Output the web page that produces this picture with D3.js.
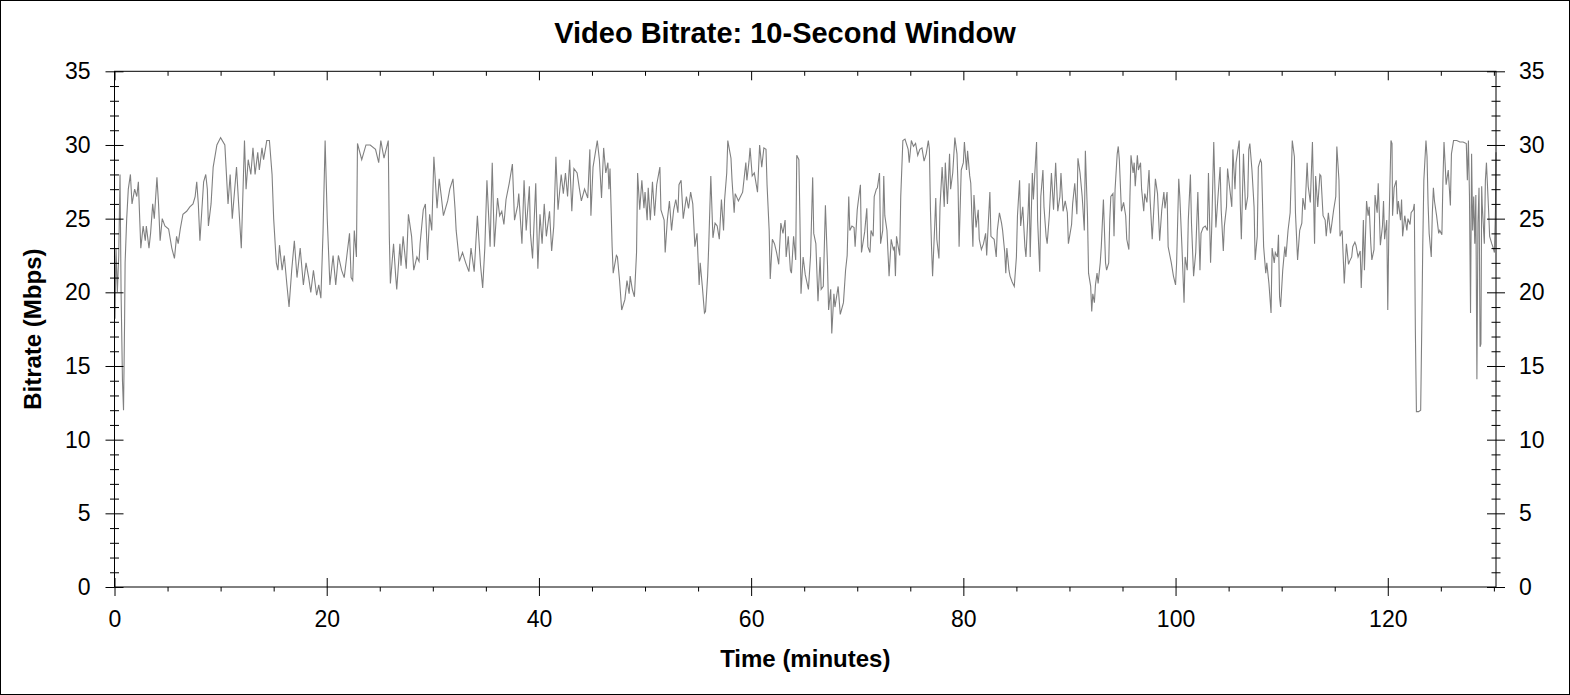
<!DOCTYPE html>
<html>
<head>
<meta charset="utf-8">
<script src="https://cdn.jsdelivr.net/npm/d3@7"></script>
<style>
  body { margin: 0; background: #fff; }
  text { font-family: "Liberation Sans", Arial, sans-serif; fill: #000; }
</style>
</head>
<body>
<div id="chart"></div>
<script>
// [minute, Mbps]
var seg1 = [[0.0,22.5],[0.05,18.2],[0.14,23.0],[0.27,20.0],[0.4,22.5],[0.52,28.0],[0.62,20.0],[0.75,14.0],[0.85,12.0],[0.95,18.0],[1.0,22.0],[1.15,25.0],[1.3,27.0],[1.5,28.0],[1.65,26.0],[1.9,27.0],[2.1,26.5],[2.25,27.5],[2.35,25.5],[2.48,23.0],[2.7,24.5],[2.9,23.5],[3.0,24.5],[3.25,23.0],[3.4,24.0],[3.6,26.0],[3.75,25.0],[4.0,27.8],[4.15,26.0],[4.3,23.5],[4.5,25.0],[4.75,24.5],[5.1,24.3],[5.4,23.0],[5.65,22.3],[5.85,23.8],[6.0,23.3],[6.2,24.3],[6.45,25.3],[6.8,25.5],[7.1,25.8],[7.4,26.0],[7.6,26.5],[7.75,27.5],[7.9,26.0],[8.05,23.5],[8.4,27.5],[8.6,28.0],[8.75,27.0],[8.85,24.5],[9.1,26.0],[9.3,28.5],[9.65,30.0],[10.0,30.5],[10.4,30.0],[10.7,26.0],[10.9,28.0],[11.1,25.0],[11.5,28.5],[11.7,26.0],[11.95,23.0],[12.25,30.3],[12.4,27.0],[12.6,29.0],[12.85,28.0],[13.05,29.8],[13.25,28.0],[13.5,29.5],[13.65,28.3],[13.9,29.8],[14.05,29.0],[14.35,30.3],[14.6,30.3],[14.85,28.0],[15.0,25.0],[15.25,22.0],[15.4,21.5],[15.55,23.2],[15.8,21.5],[16.0,22.5],[16.25,20.5],[16.45,19.0],[16.7,21.5],[16.95,23.5],[17.2,21.0],[17.5,23.0],[17.8,20.5],[18.05,22.0],[18.3,21.0],[18.5,20.0],[18.75,21.5],[19.05,19.8],[19.25,20.5],[19.45,19.6],[19.65,24.0],[19.85,30.3],[20.05,25.0],[20.3,20.5],[20.6,22.5],[20.85,20.5],[21.1,22.5],[21.4,21.5],[21.65,21.0],[21.9,22.5],[22.15,24.0],[22.3,21.0],[22.45,20.8]];

var seg2 = [[22.6,24.2],[22.8,22.4],[22.9,30.1],[23.3,29.0],[23.7,30.0],[24.1,30.0],[24.6,29.7],[24.9,28.8],[25.1,30.3],[25.4,29.1],[25.8,30.3],[25.9,23.8],[26.0,20.6],[26.3,23.3],[26.5,21.1],[26.6,20.2],[26.9,23.3],[27.0,21.8],[27.2,23.8],[27.5,21.6],[27.7,25.3],[28.0,23.8],[28.2,21.5],[28.5,22.4],[28.7,22.1],[28.8,23.3],[29.1,25.6],[29.3,26.0],[29.5,22.2],[29.7,25.3],[29.9,24.2],[30.1,29.2],[30.4,25.7],[30.6,27.7],[30.8,26.5],[31.0,25.2],[31.4,26.2],[31.6,27.0],[31.9,27.7],[32.1,25.6],[32.2,24.2],[32.5,22.1],[32.8,22.7],[33.1,22.0],[33.4,21.4],[33.6,23.0],[33.9,21.4],[34.2,25.2],[34.5,21.8],[34.7,20.3],[34.9,23.0],[35.1,27.6],[35.4,23.1],[35.6,28.8],[35.8,23.1],[36.1,26.4],[36.3,25.2],[36.5,25.5],[36.7,24.6],[36.9,26.3],[37.2,27.4],[37.5,28.7],[37.7,24.9],[38.0,25.9],[38.1,26.7],[38.4,23.3],[38.6,27.6],[38.8,24.2],[39.1,27.2],[39.2,24.0],[39.4,22.3],[39.7,27.4],[39.9,21.6],[40.1,25.3],[40.3,23.3],[40.5,26.0],[40.7,23.8],[41.0,25.5],[41.2,22.8],[41.4,24.5],[41.6,29.2],[41.8,25.6],[42.1,28.0],[42.3,26.7],[42.5,28.1],[42.7,26.5],[42.9,29.0],[43.1,25.5],[43.3,28.4],[43.6,28.1],[43.8,27.1],[44.0,26.2],[44.3,27.0],[44.6,26.4],[44.8,29.7],[44.9,25.2],[45.1,28.5],[45.5,30.3],[45.7,29.0]];

var seg3 = [[45.9,26.4],[46.1,29.8],[46.3,28.1],[46.5,28.8],[46.6,27.0],[46.7,28.4],[46.9,23.1],[47.0,21.3],[47.3,22.5],[47.4,22.4],[47.6,20.8],[47.8,18.8],[48.1,19.5],[48.3,20.8],[48.5,19.9],[48.6,21.1],[48.8,20.2],[49.0,19.7],[49.2,22.7],[49.3,28.1],[49.5,25.6],[49.7,27.6],[49.9,25.7],[50.0,26.8],[50.2,24.9],[50.3,27.1],[50.5,24.9],[50.7,27.5],[50.9,25.2],[51.1,27.3],[51.4,28.5],[51.5,25.6],[51.8,24.9],[51.9,22.7],[52.1,24.9],[52.3,26.2],[52.5,24.2],[52.7,25.6],[52.9,26.3],[53.1,25.4],[53.2,27.3],[53.4,27.6],[53.6,25.0],[53.9,26.5],[54.1,25.7],[54.3,26.8],[54.5,26.0],[54.7,23.1],[54.9,24.0],[55.1,20.5],[55.2,22.0],[55.4,20.4],[55.6,18.6],[55.7,18.7],[55.9,21.1],[56.0,23.1],[56.2,27.9],[56.4,23.7],[56.6,24.7],[56.8,24.5],[57.0,23.6],[57.2,26.3],[57.4,24.2],[57.5,26.3],[57.7,28.1],[57.8,30.3],[58.1,29.1],[58.2,27.6],[58.4,25.4],[58.5,26.7],[58.8,26.2],[59.0,26.5],[59.2,26.8],[59.5,28.8],[59.6,27.6],[59.8,28.9],[59.9,29.8],[60.1,27.9],[60.3,28.1],[60.6,26.8],[60.8,30.0],[61.0,28.5],[61.2,29.8],[61.4,29.7],[61.5,27.3],[61.7,24.2],[61.8,20.9],[62.0,23.6],[62.2,23.3],[62.4,22.7],[62.6,21.9],[62.8,24.7],[63.0,24.0],[63.2,24.9],[63.3,22.4],[63.5,23.8],[63.7,21.5],[63.8,21.3],[64.0,23.8],[64.2,22.2],[64.3,29.3],[64.5,29.0],[64.6,24.9],[64.7,19.9],[64.9,22.4],[65.1,21.2],[65.4,20.2],[65.6,22.5],[65.8,27.8],[65.9,24.0],[66.1,23.3],[66.3,19.4],[66.5,22.4],[66.6,20.2],[66.8,20.4],[67.0,25.9],[67.2,21.8],[67.3,18.8],[67.5,20.2],[67.6,17.2],[67.8,19.9],[67.9,19.0],[68.2,20.4],[68.4,18.5],[68.7,19.3],[68.9,21.5],[69.05,22.5]];

var seg4 = [[69.2,26.5],[69.3,24.2],[69.5,24.5],[69.7,24.4],[69.8,23.1],[70.0,25.6],[70.1,26.2],[70.3,27.3],[70.4,22.7],[70.7,24.1],[70.9,25.7],[71.0,23.1],[71.2,22.7],[71.3,24.2],[71.5,23.8],[71.6,26.5],[71.8,27.0],[71.9,27.1],[72.1,28.1],[72.2,23.3],[72.4,24.2],[72.5,27.9],[72.6,25.2],[72.8,24.2],[73.0,21.1],[73.2,23.6],[73.4,22.9],[73.5,23.1],[73.6,21.1],[73.7,23.8],[74.0,22.5],[74.1,26.5],[74.3,30.3],[74.5,30.4],[74.8,29.7],[74.9,28.8],[75.1,30.3],[75.3,29.9],[75.5,30.1],[75.7,29.3],[75.9,29.7],[76.1,29.8],[76.3,28.9],[76.5,29.4],[76.7,30.3],[76.8,29.7],[76.9,25.6],[77.0,23.1],[77.1,21.1],[77.3,24.5],[77.4,26.4],[77.5,23.6],[77.7,22.3],[77.8,25.8],[78.0,28.5],[78.2,25.8],[78.3,28.8],[78.5,26.0],[78.7,29.4],[78.8,27.0],[79.0,28.1],[79.2,30.5],[79.4,29.4],[79.5,27.2],[79.6,23.1],[79.8,28.3],[80.0,28.8],[80.1,30.2],[80.3,28.3],[80.4,29.6],[80.6,27.9],[80.7,27.4],[80.9,23.1],[81.0,26.6],[81.2,24.4],[81.4,25.6],[81.5,23.6],[81.7,22.9],[81.9,23.3],[82.1,24.0],[82.2,22.5],[82.5,26.8],[82.6,23.8],[82.9,23.6],[83.1,22.4],[83.2,24.2],[83.4,25.4],[83.6,24.7],[83.7,24.2],[83.9,22.7],[84.0,21.3],[84.1,23.0],[84.3,21.5],[84.4,21.1],[84.6,20.7],[84.8,20.4],[85.0,22.4],[85.1,25.2],[85.3,27.6],[85.4,24.5],[85.6,25.8],[85.8,23.1],[85.9,22.4],[86.1,25.4],[86.2,27.4],[86.3,22.4],[86.5,28.1],[86.6,26.3],[86.9,30.2],[87.0,24.9],[87.2,21.4],[87.3,26.5],[87.5,28.3],[87.6,25.8],[87.8,23.8],[87.9,23.3],[88.1,25.2],[88.3,28.1],[88.5,25.6],[88.7,28.8],[88.9,25.5],[89.1,26.5],[89.2,28.1],[89.4,25.5],[89.6,26.2],[89.8,25.4],[89.9,23.3],[90.2,24.6],[90.3,26.0],[90.5,27.4],[90.7,25.3],[90.8,29.1],[91.0,28.1],[91.2,26.5],[91.4,24.2],[91.5,29.6],[91.7,25.2],[91.8,21.3],[92.0,20.4],[92.1,18.7],[92.2,19.9],[92.35,19.3],[92.45,20.5]];

var seg5 = [[92.6,21.3],[92.7,20.6],[92.9,22.0],[93.0,23.1],[93.2,26.3],[93.4,22.0],[93.5,21.5],[93.7,22.0],[93.8,24.9],[93.9,26.5],[94.1,26.7],[94.2,23.8],[94.3,27.0],[94.5,29.4],[94.6,29.9],[94.7,29.0],[94.9,25.5],[95.1,26.1],[95.3,25.2],[95.4,23.6],[95.6,22.9],[95.7,26.5],[95.8,29.3],[96.0,28.1],[96.1,28.8],[96.2,27.2],[96.4,29.3],[96.5,28.3],[96.7,28.8],[96.8,27.0],[97.0,25.5],[97.1,26.7],[97.3,26.1],[97.5,28.3],[97.6,26.3],[97.8,23.6],[98.0,26.3],[98.1,27.7],[98.3,26.7],[98.5,23.5],[98.7,25.6],[98.9,26.8],[99.0,25.7],[99.2,26.8],[99.3,23.1],[99.6,22.0],[99.8,21.1],[100.0,20.5],[100.1,22.0],[100.3,27.7],[100.4,26.5],[100.6,23.1],[100.8,19.3],[100.9,22.4],[101.1,21.5],[101.2,24.9],[101.4,28.0],[101.5,24.7],[101.7,21.1],[101.9,22.7],[102.1,26.8],[102.3,21.5],[102.4,24.0],[102.6,24.4],[102.8,24.5],[103.0,24.2],[103.1,28.1],[103.3,22.0],[103.4,24.2],[103.6,30.2],[103.8,24.4],[104.0,26.5],[104.2,28.5],[104.3,25.6],[104.5,22.8],[104.6,24.5],[104.8,25.8],[104.9,28.4],[105.1,27.1],[105.3,25.8],[105.4,29.7],[105.6,27.0],[105.7,28.8],[106.0,30.3],[106.1,26.0],[106.2,23.6],[106.4,29.4],[106.6,25.6],[106.8,26.5],[106.9,29.7],[107.0,30.1],[107.2,28.3],[107.4,25.8],[107.5,22.2],[107.7,23.8],[107.8,28.5],[108.0,29.0],[108.1,28.8],[108.3,23.1],[108.5,21.3],[108.6,22.0],[108.8,20.6],[109.0,18.6],[109.1,23.0],[109.3,22.0],[109.4,22.7],[109.6,22.4],[109.7,23.9],[109.8,19.7],[109.9,19.0],[110.1,21.5],[110.3,23.1],[110.4,22.4],[110.6,24.2],[110.8,25.4],[111.0,30.3],[111.2,29.2],[111.3,25.4],[111.5,22.2],[111.7,24.2],[111.9,24.7],[112.0,26.4],[112.2,25.6],[112.4,28.8],[112.5,27.2],[112.7,26.1],[112.9,30.2],[113.1,23.3],[113.2,27.9],[113.4,25.8],[113.6,28.0],[113.7,27.9],[113.9,25.2],[114.1,24.9],[114.2,23.8],[114.4,25.4],[114.6,24.0],[114.7,24.5],[114.9,25.6],[115.1,26.5],[115.2,29.9],[115.4,27.6],[115.5,23.8],[115.7,24.2],[115.9,20.6]];

var seg6 = [[116.1,23.3],[116.3,21.9],[116.4,22.1],[116.6,22.4],[116.7,23.1],[116.9,23.4],[117.0,23.2],[117.2,22.4],[117.4,22.8],[117.5,20.3],[117.6,22.3],[117.7,24.9],[117.8,21.5],[118.0,26.2],[118.15,25.2],[118.25,25.8],[118.4,23.3],[118.5,22.2],[118.7,22.9],[118.8,26.6],[119.0,25.4],[119.1,27.4],[119.2,25.4],[119.3,23.2],[119.5,24.5],[119.6,26.2],[119.7,23.6],[119.9,24.9],[120.0,18.8],[120.1,24.2],[120.3,30.3],[120.4,30.1],[120.45,25.2],[120.6,27.1],[120.8,27.6],[120.9,25.3],[121.0,26.2],[121.2,24.9],[121.3,26.3],[121.4,23.8],[121.6,25.2],[121.8,24.2],[121.9,25.0],[122.1,24.6],[122.2,25.4],[122.4,25.6],[122.5,26.0],[122.6,17.4],[122.7,11.9],[122.9,11.9],[123.1,12.0],[123.2,17.4],[123.3,23.3],[123.4,27.6],[123.6,30.3],[123.7,29.2],[123.8,26.0],[123.9,24.0],[124.1,22.4],[124.2,25.4],[124.3,27.1],[124.4,26.2],[124.6,25.2],[124.8,24.0],[124.9,24.2],[125.1,23.9],[125.2,27.6],[125.3,30.2],[125.4,28.8],[125.5,27.3],[125.7,28.3],[125.9,25.9],[126.0,29.4],[126.2,30.3],[126.5,30.3],[126.8,30.2],[127.1,30.2],[127.4,30.1],[127.5,27.6],[127.6,30.3],[127.7,26.5],[127.8,18.6],[127.9,29.4],[128.0,24.2],[128.1,26.5],[128.2,23.3],[128.3,26.6],[128.4,14.1],[128.5,24.7],[128.6,27.1],[128.7,16.3],[128.78,16.5],[128.85,27.2],[128.9,26.0],[129.1,23.3],[129.2,27.6],[129.3,28.8],[129.5,25.6],[129.6,23.8],[129.8,23.3],[129.9,23.1],[130.05,22.7],[130.15,25.6],[130.2,29.5]];

var samples = seg1.concat(seg2, seg3, seg4, seg5, seg6);

var xMajor = [0, 20, 40, 60, 80, 100, 120];
var xMinor = [5, 10, 15, 25, 30, 35, 45, 50, 55, 65, 70, 75, 85, 90, 95, 105, 110, 115, 125, 130];
var yMajor = [0, 5, 10, 15, 20, 25, 30, 35];
var yMinor = d3.range(0, 36).filter(function(v){ return v % 5 != 0; });

var width = 1570, height = 695;
var plotLeft = 114.5, plotRight = 1496, plotTop = 71.3, plotBottom = 587;

var svg = d3.select("#chart").append("svg")
    .attr("width", width)
    .attr("height", height);

svg.append("rect")
    .attr("x", 0.5).attr("y", 0.5)
    .attr("width", width - 1).attr("height", height - 1)
    .attr("fill", "#fff").attr("stroke", "#000");

var x = d3.scaleLinear().domain([0, 130.2]).range([plotLeft, plotRight]);
var y = d3.scaleLinear().domain([0, 35]).range([plotBottom, plotTop]);

// data line first, axes drawn on top
var line = d3.line()
    .x(function(d){ return x(d[0]); })
    .y(function(d){ return y(d[1]); });

svg.append("path")
    .datum(samples)
    .attr("d", line)
    .attr("fill", "none")
    .attr("stroke", "#808080")
    .attr("stroke-width", 1.1);

function styleAxis(g){
    g.select(".domain").remove();
    g.selectAll("line").attr("stroke", "#000").attr("stroke-width", 1);
    g.selectAll("text").attr("font-size", "23px").attr("font-family", "'Liberation Sans', Arial, sans-serif");
}

function addAxis(axis, tx, ty){
    svg.append("g").attr("transform", "translate(" + tx + "," + ty + ")")
        .call(axis).call(styleAxis);
}

// frame of the plot
svg.append("rect")
    .attr("x", plotLeft).attr("y", plotTop)
    .attr("width", plotRight - plotLeft).attr("height", plotBottom - plotTop)
    .attr("fill", "none").attr("stroke", "#000");

// left axis (ticks cross the line)
addAxis(d3.axisLeft(y).tickValues(yMajor).tickSize(9).tickPadding(15), plotLeft, 0);
addAxis(d3.axisRight(y).tickValues(yMajor).tickSize(9).tickFormat(""), plotLeft, 0);
addAxis(d3.axisLeft(y).tickValues(yMinor).tickSize(4.5).tickFormat(""), plotLeft, 0);
addAxis(d3.axisRight(y).tickValues(yMinor).tickSize(4.5).tickFormat(""), plotLeft, 0);

// right axis
addAxis(d3.axisRight(y).tickValues(yMajor).tickSize(9).tickPadding(14), plotRight, 0);
addAxis(d3.axisLeft(y).tickValues(yMajor).tickSize(9).tickFormat(""), plotRight, 0);
addAxis(d3.axisRight(y).tickValues(yMinor).tickSize(4.5).tickFormat(""), plotRight, 0);
addAxis(d3.axisLeft(y).tickValues(yMinor).tickSize(4.5).tickFormat(""), plotRight, 0);

// bottom axis
addAxis(d3.axisBottom(x).tickValues(xMajor).tickSize(9).tickPadding(14.5).tickFormat(d3.format("d")), 0, plotBottom);
addAxis(d3.axisTop(x).tickValues(xMajor).tickSize(9).tickFormat(""), 0, plotBottom);
addAxis(d3.axisBottom(x).tickValues(xMinor).tickSize(4.5).tickFormat(""), 0, plotBottom);

// top axis, ticks pointing in
addAxis(d3.axisBottom(x).tickValues(xMajor).tickSize(9).tickFormat(""), 0, plotTop);
addAxis(d3.axisBottom(x).tickValues(xMinor).tickSize(4.5).tickFormat(""), 0, plotTop);

// titles
svg.append("text")
    .attr("x", 785).attr("y", 43)
    .attr("text-anchor", "middle")
    .attr("font-size", "29px").attr("font-weight", "bold")
    .text("Video Bitrate: 10-Second Window");

svg.append("text")
    .attr("x", (plotLeft + plotRight) / 2).attr("y", 667)
    .attr("text-anchor", "middle")
    .attr("font-size", "24px").attr("font-weight", "bold")
    .text("Time (minutes)");

svg.append("text")
    .attr("transform", "translate(41," + ((plotTop + plotBottom) / 2) + ") rotate(-90)")
    .attr("text-anchor", "middle")
    .attr("font-size", "24px").attr("font-weight", "bold")
    .text("Bitrate (Mbps)");
</script>
</body>
</html>
